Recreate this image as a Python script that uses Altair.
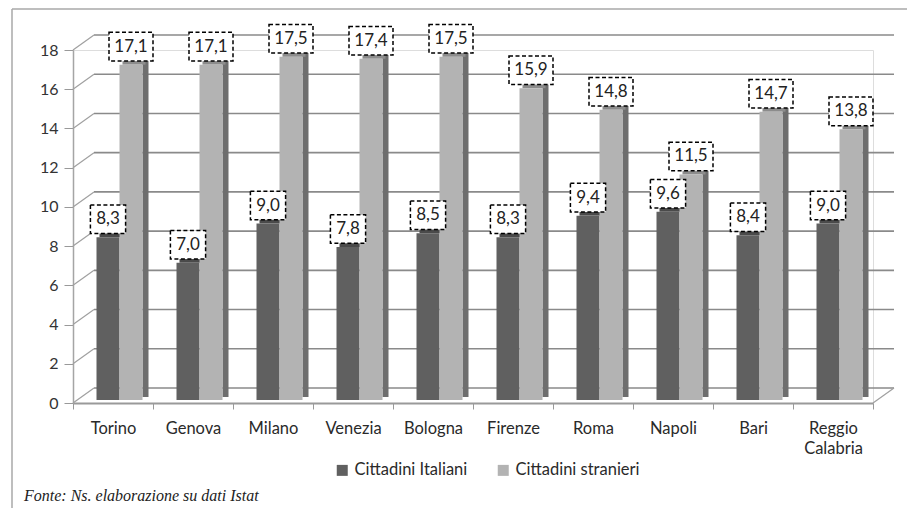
import altair as alt
import pandas as pd

# ---------------- data ----------------
cities = ["Torino", "Genova", "Milano", "Venezia", "Bologna", "Firenze",
          "Roma", "Napoli", "Bari", "Reggio Calabria"]
italiani = [8.3, 7.0, 9.0, 7.8, 8.5, 8.3, 9.4, 9.6, 8.4, 9.0]
stranieri = [17.1, 17.1, 17.5, 17.4, 17.5, 15.9, 14.8, 11.5, 14.7, 13.8]
series = ["Cittadini Italiani", "Cittadini stranieri"]
y_ticks = [0, 2, 4, 6, 8, 10, 12, 14, 16, 18]
source_note = "Fonte: Ns. elaborazione su dati Istat"

# ---------------- styling constants ----------------
W, H = 800, 353
DX, DY = 21, -15          # 3D depth of the back wall
BAR_W = 23
OFF_IT, OFF_ST = -5, 18   # bar centre offsets from band centre
BASE = -3                 # bars sit slightly behind the front edge
TOP_H = 5                 # height of the bar top face
SIDE_W = 6
DARK, LIGHT = "#606060", "#b3b3b3"
DARK_TOP, LIGHT_TOP, LIGHT_SIDE = "#4a4a4a", "#8c8c8c", "#6e6e6e"
GRID = "#8a8a8a"
FONT = "Lato"

rows = []
for c, a, b in zip(cities, italiani, stranieri):
    rows.append({"city": c, "serie": series[0], "val": a})
    rows.append({"city": c, "serie": series[1], "val": b})
df = pd.DataFrame(rows)
df["label"] = df["val"].map(lambda v: f"{v:.1f}".replace(".", ","))
df["nchar"] = df["label"].str.len()

ticks_df = pd.DataFrame({"val": y_ticks})
zero_df = pd.DataFrame({"val": [0]})
note_df = pd.DataFrame({"t": [source_note]})
one_df = pd.DataFrame({"k": [0]})

x_enc = alt.X(
    "city:N", sort=cities,
    scale=alt.Scale(domain=cities, paddingInner=0, paddingOuter=0),
    axis=alt.Axis(title=None, labelAngle=0, labelFontSize=16.5, labelFont=FONT,
                  labelColor="#2a2a2a", tickBand="extent", tickSize=6,
                  tickColor="#999", domainColor="#9a9a9a", domainWidth=2,
                  labelPadding=11, grid=False, labelLineHeight=20,
                  labelExpr="datum.value == 'Reggio Calabria' ? ['Reggio', 'Calabria'] : datum.label"),
)
y_enc = alt.Y(
    "val:Q",
    scale=alt.Scale(domain=[0, 18], nice=False, zero=True),
    axis=alt.Axis(title=None, values=y_ticks, labelFontSize=16, labelFont=FONT,
                  labelColor="#333", tickSize=9, tickColor="#999",
                  domainColor="#a5a5a5", domainWidth=1.5, labelPadding=6,
                  grid=False),
)

# back wall grid lines
grid = alt.Chart(ticks_df).mark_rule(color=GRID, strokeWidth=1.6, yOffset=DY).encode(
    y=y_enc, x=alt.value(DX), x2=alt.value(W + DX))
# side wall diagonals
diag = alt.Chart(ticks_df).mark_rule(color="#a0a0a0", strokeWidth=1.2, y2Offset=DY).encode(
    y=y_enc, y2=alt.Y2("val:Q"), x=alt.value(0), x2=alt.value(DX))
# floor right edge
floor_r = alt.Chart(zero_df).mark_rule(color="#a0a0a0", strokeWidth=1.2, y2Offset=DY).encode(
    y=y_enc, y2=alt.Y2("val:Q"), x=alt.value(W), x2=alt.value(W + DX))

it = alt.Chart(df).transform_filter(alt.datum.serie == series[0])
st = alt.Chart(df).transform_filter(alt.datum.serie == series[1])

color_enc = alt.Color(
    "serie:N", scale=alt.Scale(domain=series, range=[DARK, LIGHT]),
    legend=alt.Legend(title=None, orient="none", legendX=261, legendY=412,
                      direction="horizontal", symbolType="square", symbolSize=121,
                      symbolStrokeWidth=0, labelFontSize=16.5, labelFont=FONT,
                      labelColor="#2a2a2a", columnPadding=27, labelOffset=4, padding=0))

it_top = it.mark_bar(width=BAR_W, xOffset=OFF_IT + 3, yOffset=BASE - TOP_H,
                     y2Offset=BASE, color=DARK_TOP).encode(x=x_enc, y=y_enc, y2=alt.Y2("val:Q"))
it_bar = it.mark_bar(width=BAR_W, xOffset=OFF_IT, yOffset=BASE, y2Offset=BASE).encode(
    x=x_enc, y=y_enc, y2=alt.datum(0), color=color_enc)
st_side = st.mark_bar(width=SIDE_W, xOffset=OFF_ST + BAR_W / 2 + SIDE_W / 2,
                      yOffset=BASE - TOP_H + 1, y2Offset=BASE - 3, color=LIGHT_SIDE).encode(
    x=x_enc, y=y_enc, y2=alt.datum(0))
st_top = st.mark_bar(width=BAR_W, xOffset=OFF_ST + 3, yOffset=BASE - TOP_H,
                     y2Offset=BASE, color=LIGHT_TOP).encode(x=x_enc, y=y_enc, y2=alt.Y2("val:Q"))
st_bar = st.mark_bar(width=BAR_W, xOffset=OFF_ST, yOffset=BASE, y2Offset=BASE).encode(
    x=x_enc, y=y_enc, y2=alt.datum(0), color=color_enc)

# dashed label boxes
box4 = "M-1,-0.65L1,-0.65L1,0.65L-1,0.65Z"
box3 = "M-0.8,-0.65L0.8,-0.65L0.8,0.65L-0.8,0.65Z"
shape_enc = alt.Shape("nchar:O", scale=alt.Scale(domain=[3, 4], range=[box3, box4]), legend=None)
LBL_DY = -21


def label_layers(base, xoff):
    box = base.mark_point(filled=True, fill="white", stroke="black", strokeWidth=1.5,
                          strokeDash=[4, 2.5], opacity=1, size=44 * 44,
                          xOffset=xoff, yOffset=LBL_DY).encode(x=x_enc, y=y_enc, shape=shape_enc)
    txt = base.mark_text(font=FONT, fontSize=17, color="#222", baseline="middle",
                         xOffset=xoff, yOffset=LBL_DY).encode(x=x_enc, y=y_enc, text="label:N")
    return [box, txt]


note = alt.Chart(note_df).mark_text(align="left", baseline="middle", font="Liberation Serif",
                                    fontStyle="italic", fontSize=16, color="#222").encode(
    text="t:N", x=alt.value(-49), y=alt.value(446))
border_top = alt.Chart(one_df).mark_rule(color="#a8a8a8", strokeWidth=1.5).encode(
    x=alt.value(-61), x2=alt.value(834), y=alt.value(-41))
border_left = alt.Chart(one_df).mark_rule(color="#a8a8a8", strokeWidth=1.5).encode(
    x=alt.value(-61), y=alt.value(-41), y2=alt.value(460))

chart = alt.layer(
    border_top, border_left, grid, diag, floor_r,
    it_top, it_bar, st_side, st_top, st_bar,
    *label_layers(it, OFF_IT), *label_layers(st, OFF_ST),
    note,
).properties(
    width=W, height=H,
    padding={"left": 65, "top": 42, "right": 34, "bottom": 105},
    autosize=alt.AutoSizeParams(type="none"),
).configure_view(stroke=None).configure(background="white")

chart.save("out.html", embed_options={"renderer": "svg", "actions": False})
